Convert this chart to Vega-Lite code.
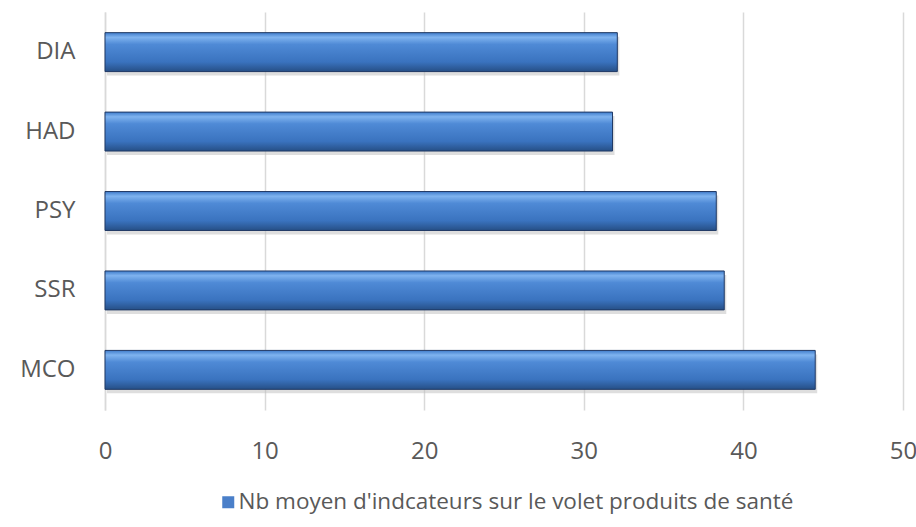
{
  "$schema": "https://vega.github.io/schema/vega-lite/v6.json",
  "width": 798,
  "height": 398,
  "autosize": "none",
  "padding": {"left": 105, "top": 12, "right": 13, "bottom": 117},
  "background": "white",
  "data": {
    "values": [
      {"cat": "DIA", "v": 32.1, "serie": "Nb moyen d'indcateurs sur le volet produits de santé"},
      {"cat": "HAD", "v": 31.8, "serie": "Nb moyen d'indcateurs sur le volet produits de santé"},
      {"cat": "PSY", "v": 38.3, "serie": "Nb moyen d'indcateurs sur le volet produits de santé"},
      {"cat": "SSR", "v": 38.8, "serie": "Nb moyen d'indcateurs sur le volet produits de santé"},
      {"cat": "MCO", "v": 44.5, "serie": "Nb moyen d'indcateurs sur le volet produits de santé"}
    ]
  },
  "encoding": {
    "y": {
      "field": "cat", "type": "nominal",
      "sort": ["DIA", "HAD", "PSY", "SSR", "MCO"],
      "scale": {"paddingInner": 0.51, "paddingOuter": 0.26},
      "axis": {"title": null, "ticks": false, "domain": true, "domainColor": "#d9d9d9", "domainWidth": 1.5,
               "labelFont": "Open Sans", "labelFontSize": 24, "labelColor": "#595959", "labelPadding": 30}
    },
    "x": {
      "field": "v", "type": "quantitative",
      "scale": {"domain": [0, 50]},
      "axis": {"title": null, "values": [0, 10, 20, 30, 40, 50], "domain": false, "ticks": false,
               "grid": true, "gridColor": "#d9d9d9", "gridWidth": 1.5,
               "labelFont": "Open Sans", "labelFontSize": 24, "labelColor": "#595959", "labelPadding": 29,
               "labelFlush": false}
    }
  },
  "layer": [
    {"mark": {"type": "bar", "color": "#bdbdbd", "opacity": 0.5, "yOffset": 4, "xOffset": 2}},
    {"mark": {"type": "bar", "stroke": "#1f3864", "strokeWidth": 1,
      "fill": {"gradient": "linear", "x1": 0, "y1": 0, "x2": 0, "y2": 1,
        "stops": [
          {"offset": 0, "color": "#3f7ccb"},
          {"offset": 0.12, "color": "#7fb3ef"},
          {"offset": 0.3, "color": "#4f8ad6"},
          {"offset": 0.75, "color": "#3a73bf"},
          {"offset": 1, "color": "#264f86"}
        ]}}},
    {"mark": {"type": "bar", "opacity": 0},
     "encoding": {"color": {"field": "serie", "type": "nominal", "scale": {"range": ["#4a7fc9"]},
       "legend": {"title": null, "orient": "none", "legendX": 112, "legendY": 479,
         "symbolType": "square", "symbolSize": 144, "symbolStrokeColor": "#1f3864", "symbolStrokeWidth": 1,
         "labelFont": "Open Sans", "labelFontSize": 22.5, "labelColor": "#595959", "labelLimit": 800,
         "labelOffset": -1,
         "encode": {"symbols": {"update": {"opacity": {"value": 1}, "fill": {"value": "#4a7fc9"}, "fillOpacity": {"value": 1}}}}}}}}
  ],
  "config": {"view": {"stroke": null}}
}
